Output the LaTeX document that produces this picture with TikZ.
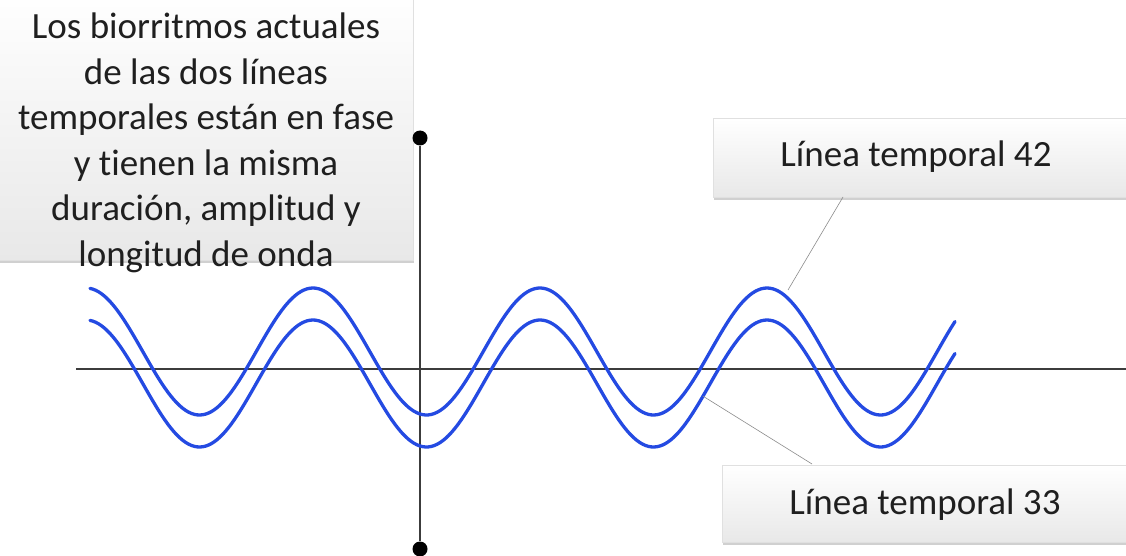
\documentclass[tikz,border=0pt]{standalone}
\usepackage{fontspec}
\setmainfont{Carlito}[Ligatures=NoCommon]
\usetikzlibrary{shadows}
\definecolor{waveblue}{RGB}{36,74,226}
\definecolor{axisgray}{RGB}{60,60,60}
\tikzset{
  calloutbox/.style={rectangle, draw=black!12, line width=0.6pt, top color=white, bottom color=black!9,
    drop shadow={shadow xshift=1pt, shadow yshift=-3pt, opacity=0.3, fill=black!60}},
  labeltext/.style={font=\fontsize{37}{45.5}\selectfont, text=black!88, align=center, inner sep=0pt},
  wave/.style={draw=waveblue, line width=3.3pt, line cap=round, line join=round},
  axis/.style={draw=axisgray, line width=1.8pt},
  dotmark/.style={circle, fill=black, inner sep=0pt, minimum size=15pt},
  leader/.style={draw=black!45, line width=0.6pt}
}
\begin{document}
\begin{tikzpicture}[x=1pt, y=-1pt]
\useasboundingbox (0,0) rectangle (1126,556);
\clip (0,0) rectangle (1126,556);
\fill[white] (0,0) rectangle (1126,556);

% callout boxes
\node[calloutbox, anchor=north west, minimum width=420pt, minimum height=272pt] (box1) at (-7,-12) {};
\node[calloutbox, anchor=north west, minimum width=430pt, minimum height=79pt] (box42) at (713,118) {};
\node[calloutbox, anchor=north west, minimum width=430pt, minimum height=77pt] (box33) at (722,465) {};

% texts
\node[labeltext] (t1) at (206,143) {Los biorritmos actuales\\de las dos líneas\\temporales están en fase\\y tienen la misma\\duración, amplitud y\\longitud de onda};
\node[labeltext, anchor=base] (t42) at (916,167) {Línea temporal 42};
\node[labeltext, anchor=base] (t33) at (925,514) {Línea temporal 33};

% axes
\coordinate (hl) at (76,369);
\coordinate (hr) at (1126,369);
\draw[axis] (hl) -- (hr);
\node[dotmark] (dtop) at (420,138) {};
\node[dotmark] (dbot) at (420,549) {};
\draw[axis] (dtop) -- (dbot);

% waves
\draw[wave] plot[domain=90:955, samples=300, smooth] (\x, {351.5-63.5*cos(1.585903*(\x-313))});
\draw[wave] plot[domain=90:955, samples=300, smooth] (\x, {383.5-63.5*cos(1.585903*(\x-313))});

% leader lines
\coordinate (w42) at (788,290);
\coordinate (w33) at (703,{383.5-63.5*cos(1.585903*(703-313))});
\coordinate (b42) at (843,197);
\coordinate (b33) at (812,464);
\draw[leader] (b42) -- (w42);
\draw[leader] (w33) -- (b33);
\end{tikzpicture}
\end{document}
